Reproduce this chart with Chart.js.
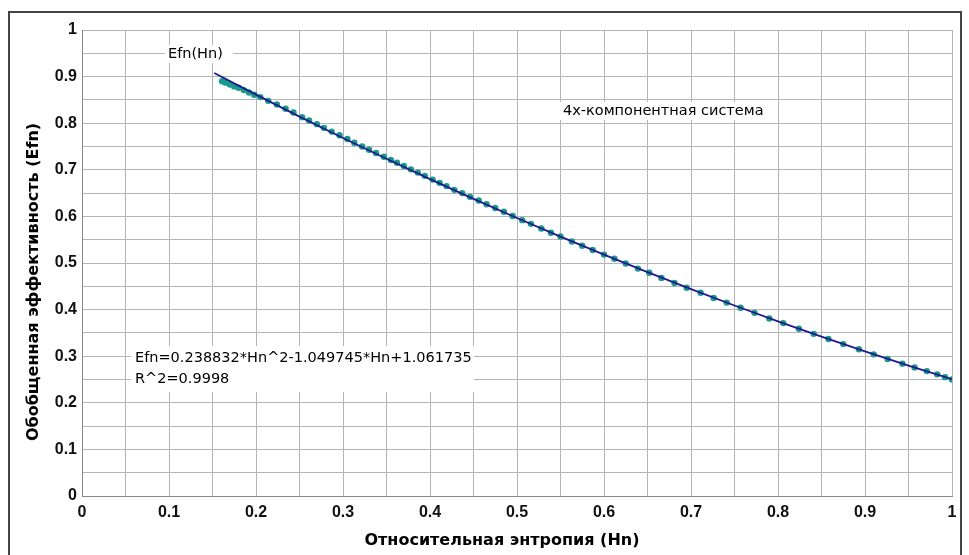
<!DOCTYPE html>
<html>
<head>
<meta charset="utf-8">
<script src="https://cdn.jsdelivr.net/npm/chart.js@4.4.1/dist/chart.umd.min.js"></script>
<style>
  html, body { margin: 0; padding: 0; background: #fff; }
  #wrap { width: 969px; height: 555px; }
</style>
</head>
<body>
<div id="wrap"><canvas id="c" width="969" height="555"></canvas></div>
<script>
// measured points Efn(Hn)
const hn = [0.161, 0.165, 0.170, 0.175, 0.180, 0.186, 0.192, 0.198, 0.205, 0.214,
  0.224, 0.234, 0.243, 0.253, 0.261, 0.270, 0.278, 0.287, 0.296, 0.305,
  0.313, 0.322, 0.330, 0.338, 0.347, 0.355, 0.362, 0.370, 0.378, 0.386,
  0.394, 0.403, 0.411, 0.419, 0.428, 0.437, 0.446, 0.456, 0.465, 0.475,
  0.485, 0.495, 0.506, 0.516, 0.528, 0.539, 0.550, 0.563, 0.575, 0.587,
  0.600, 0.612, 0.625, 0.639, 0.652, 0.666, 0.681, 0.695, 0.711, 0.726,
  0.741, 0.757, 0.773, 0.790, 0.806, 0.824, 0.841, 0.858, 0.875, 0.893,
  0.910, 0.926, 0.943, 0.957, 0.971, 0.983, 0.992, 1.000];
const efn = [0.890, 0.887, 0.883, 0.879, 0.876, 0.871, 0.866, 0.861, 0.856, 0.848,
  0.840, 0.831, 0.823, 0.813, 0.806, 0.798, 0.790, 0.782, 0.774, 0.766,
  0.758, 0.750, 0.743, 0.736, 0.728, 0.721, 0.715, 0.708, 0.701, 0.694,
  0.687, 0.679, 0.672, 0.665, 0.657, 0.650, 0.642, 0.634, 0.626, 0.618,
  0.610, 0.601, 0.592, 0.584, 0.574, 0.565, 0.557, 0.546, 0.537, 0.528,
  0.518, 0.509, 0.499, 0.488, 0.479, 0.468, 0.457, 0.447, 0.436, 0.425,
  0.415, 0.404, 0.393, 0.381, 0.371, 0.359, 0.348, 0.337, 0.326, 0.315,
  0.304, 0.294, 0.284, 0.276, 0.268, 0.261, 0.255, 0.250];

// trend line
const fitHn = [0.152, 0.20, 0.25, 0.30, 0.35, 0.40, 0.45, 0.50, 0.55, 0.60,
  0.65, 0.70, 0.75, 0.80, 0.85, 0.90, 0.95, 1.00];
const fitEfn = [0.9077, 0.8613, 0.8142, 0.7683, 0.7236, 0.6801, 0.6377, 0.5966, 0.5566, 0.5179,
  0.4803, 0.4439, 0.4088, 0.3748, 0.3420, 0.3104, 0.2800, 0.2508];

const eqLines = ['Efn=0.238832*Hn^2-1.049745*Hn+1.061735', 'R^2=0.9998'];
const seriesLabel = 'Efn(Hn)';
const noteText = '4x-компонентная система';
const xTitle = 'Относительная энтропия (Hn)';
const yTitle = 'Обобщенная эффективность (Efn)';

const FONT = '"Liberation Sans", Arial, sans-serif';
const WIDE = '"DejaVu Sans", sans-serif';

const tickLabel = (v) => {
  const k = Math.round(v * 100);
  if (k % 10 !== 0) return '';
  if (k === 0) return '0';
  if (k === 100) return '1';
  return (k / 100).toFixed(1);
};

// frame, titles and text boxes
const decor = {
  id: 'decor',
  beforeDraw(chart) {
    const c = chart.ctx;
    c.save();
    c.fillStyle = '#fff';
    c.fillRect(0, 0, chart.width, chart.height);
    c.strokeStyle = '#444';
    c.lineWidth = 2;
    c.strokeRect(9, 12, 952, 560);
    c.restore();
  },
  beforeDatasetsDraw(chart) {
    const c = chart.ctx;
    c.save();
    c.fillStyle = '#fff';
    c.fillRect(165, 45, 68, 18);
    c.fillRect(560, 102, 204, 18);
    c.fillRect(131, 346, 343, 46);
    c.fillStyle = '#000';
    c.textBaseline = 'middle';
    c.font = '14.5px ' + WIDE;
    c.fillText(seriesLabel, 168, 54);
    c.fillText(noteText, 563, 111);
    c.fillText(eqLines[0], 135, 358);
    c.fillText(eqLines[1], 135, 379);
    c.font = 'bold 16px ' + WIDE;
    c.textAlign = 'center';
    c.fillText(xTitle, 502, 541);
    c.translate(34, 282);
    c.rotate(-Math.PI / 2);
    c.fillText(yTitle, 0, 0);
    c.restore();
  }
};

new Chart(document.getElementById('c'), {
  type: 'scatter',
  data: {
    datasets: [
      {
        label: 'fit',
        type: 'line',
        data: fitHn.map((x, i) => ({ x, y: fitEfn[i] })),
        borderColor: '#1d1b8e',
        borderWidth: 1.8,
        pointRadius: 0,
        fill: false,
        order: 0
      },
      {
        label: seriesLabel,
        data: hn.map((x, i) => ({ x, y: efn[i] })),
        backgroundColor: '#1a9a8b',
        borderColor: '#1a9a8b',
        pointRadius: 3.2,
        pointBorderWidth: 0,
        order: 1
      }
    ]
  },
  options: {
    responsive: false,
    animation: false,
    layout: { padding: { left: 0, top: 30, right: 17, bottom: 0 } },
    plugins: { legend: { display: false }, tooltip: { enabled: false } },
    scales: {
      x: {
        type: 'linear', min: 0, max: 1,
        afterFit: (s) => { s.height = 59; },
        grid: { color: '#b4b4b4', drawTicks: false },
        border: { color: '#888' },
        ticks: { stepSize: 0.05, autoSkip: false, maxRotation: 0, padding: 7, color: '#111',
          font: { family: FONT, size: 16, weight: 'bold' }, callback: tickLabel }
      },
      y: {
        type: 'linear', min: 0, max: 1,
        afterFit: (s) => { s.width = 82; },
        grid: { color: '#b4b4b4', drawTicks: false },
        border: { color: '#888' },
        ticks: { stepSize: 0.05, autoSkip: false, padding: 5, color: '#111',
          font: { family: FONT, size: 16, weight: 'bold' }, callback: tickLabel }
      }
    }
  },
  plugins: [decor]
});
</script>
</body>
</html>
